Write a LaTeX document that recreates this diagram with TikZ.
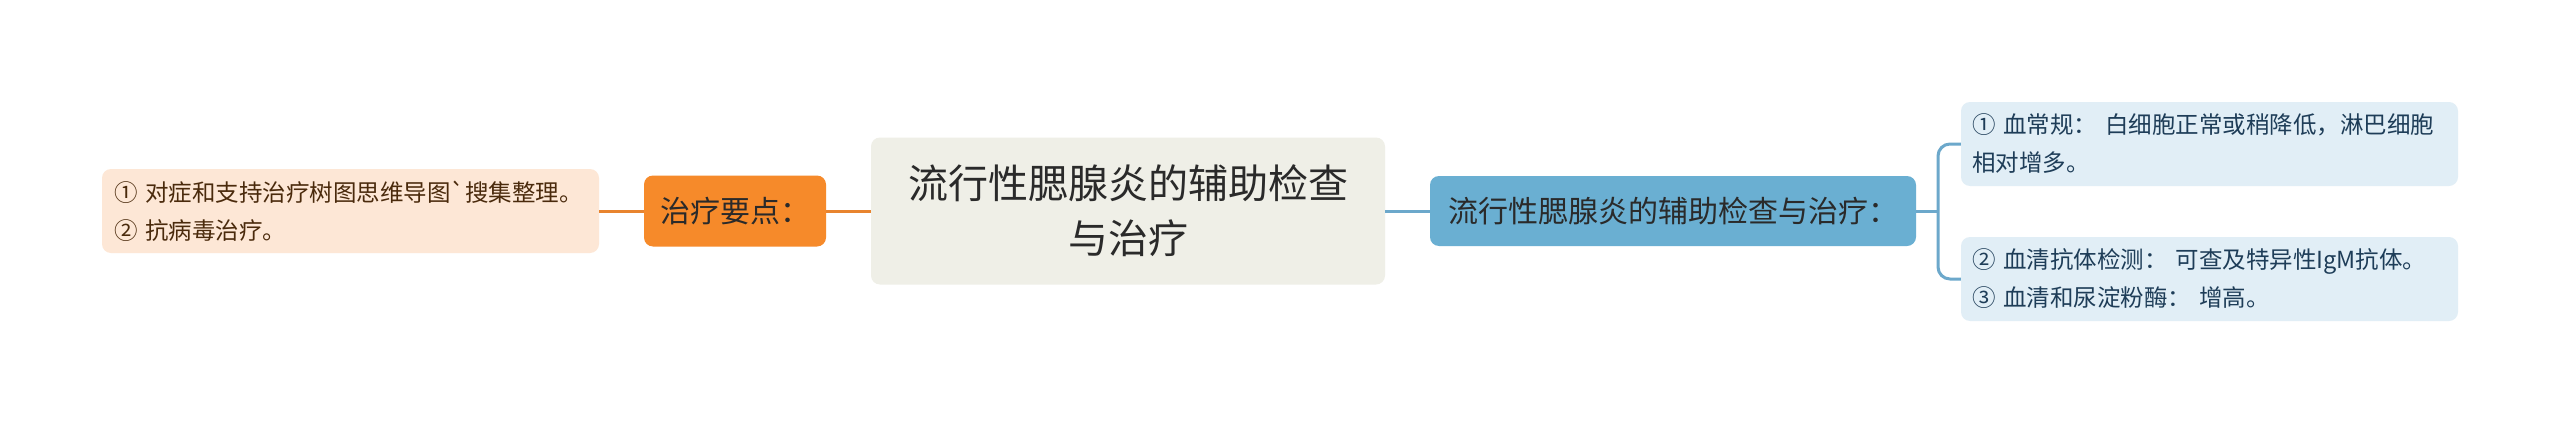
\documentclass[tikz,border=0pt]{standalone}
\usepackage{fontspec}
\setmainfont[Ligatures=TeXOff]{Noto Sans CJK SC}
\definecolor{centerfill}{HTML}{EFEFE7}
\definecolor{orangefill}{HTML}{F68A2A}
\definecolor{leaflfill}{HTML}{FDE7D6}
\definecolor{orangeline}{HTML}{E8842F}
\definecolor{bluefill}{HTML}{6AAFD2}
\definecolor{leafrfill}{HTML}{E1EEF6}
\definecolor{blueline}{HTML}{6CA8CB}
\definecolor{leafltext}{HTML}{4A2A0C}
\definecolor{leafrtext}{HTML}{1E3D58}
\definecolor{darktext}{HTML}{2A2A2A}
\begin{document}
\begin{tikzpicture}[x=1pt,y=-1pt,
  boxbase/.style={rounded corners=9pt, inner sep=0pt, draw=none},
  centerbox/.style={boxbase, fill=centerfill, minimum width=514pt, minimum height=147pt, align=center, text=darktext, font=\fontsize{40}{55}\selectfont},
  orangebox/.style={boxbase, fill=orangefill, minimum width=182pt, minimum height=71pt, text=darktext, font=\fontsize{30}{36}\selectfont},
  bluebox/.style={boxbase, fill=bluefill, minimum width=486pt, minimum height=70pt, text=darktext, font=\fontsize{30}{36}\selectfont},
  leafl/.style={boxbase, fill=leaflfill, minimum height=84pt, inner xsep=12pt, text width=473pt, align=left, text=leafltext, font=\fontsize{23.5}{30}\selectfont},
  leafr/.style={boxbase, fill=leafrfill, minimum height=84pt, inner xsep=11pt, text width=475pt, align=left, text=leafrtext, font=\fontsize{23.5}{30}\selectfont},
  oline/.style={draw=orangeline, line width=3pt},
  bline/.style={draw=blueline, line width=3pt}
]
\useasboundingbox[fill=white] (0,0) rectangle (2560,423);

\node[centerbox] (center) at (1128,211) {流行性腮腺炎的辅助检查\\与治疗};
\node[orangebox] (orange) at (735,211) {治疗要点：};
\node[leafl] (leafL) at (350.5,211) {\vspace*{8pt}① 对症和支持治疗树图思维导图`搜集整理。\\② 抗病毒治疗。};
\node[bluebox] (blue) at (1673,211) {流行性腮腺炎的辅助检查与治疗：};
\node[leafr] (leafR1) at (2209.5,144) {\vspace*{8pt}① 血常规： 白细胞正常或稍降低，淋巴细胞\\相对增多。};
\node[leafr] (leafR2) at (2209.5,279) {\vspace*{8pt}② 血清抗体检测： 可查及特异性IgM抗体。\\③ 血清和尿淀粉酶： 增高。};

\coordinate (bx) at (1938,211);

\draw[oline] (leafL.east) -- (orange.west);
\draw[oline] (orange.east) -- (center.west);
\draw[bline] (center.east) -- (blue.west);
\draw[bline] (blue.east) -- (bx);
\draw[bline, rounded corners=12pt] (leafR1.west) -| (bx) |- (leafR2.west);
\end{tikzpicture}
\end{document}
